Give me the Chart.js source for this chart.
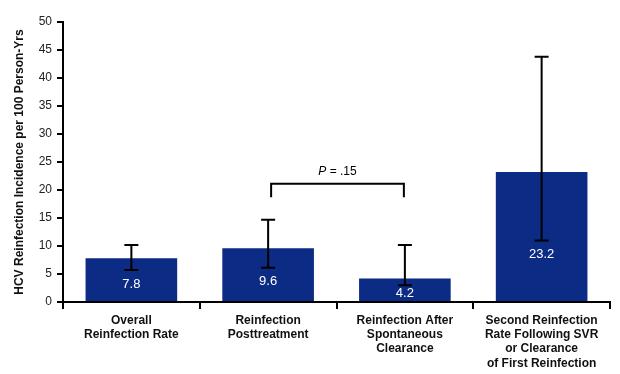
<!DOCTYPE html>
<html>
<head>
<meta charset="utf-8">
<script src="https://cdn.jsdelivr.net/npm/chart.js@4"></script>
<style>
  html, body { margin: 0; padding: 0; background: #fff; }
  #wrap { width: 620px; height: 374px; }
</style>
</head>
<body>
<div id="wrap"><canvas id="chart" width="620" height="374"></canvas></div>
<script>
// Reinfection incidence per 100 person-years, with 95% CI whiskers
const categories = [
  ["Overall", "Reinfection Rate"],
  ["Reinfection", "Posttreatment"],
  ["Reinfection After", "Spontaneous", "Clearance"],
  ["Second Reinfection", "Rate Following SVR", "or Clearance", "of First Reinfection"]
];
const rates   = [7.8, 9.6, 4.2, 23.2];
const ciLow   = [5.7, 6.1, 3.0, 11.0];
const ciHigh  = [10.2, 14.7, 10.2, 43.8];
const yTicks  = [0, 5, 10, 15, 20, 25, 30, 35, 40, 45, 50];

// Comparison bracket between bar 2 and bar 3
const bracketPair  = [1, 2];
const bracketLevel = 21.1;
const bracketLeg   = 18.7;
const bracketText  = ".15";

const BAR_COLOR = "#0b2b85";
const FONT = "Arial, 'Liberation Sans', sans-serif";

// Whiskers, value labels and the P bracket drawn on top of the bars
const overlayPlugin = {
  id: "overlay",
  afterDatasetsDraw: function (chart) {
    const ctx = chart.ctx;
    const x = chart.scales.x;
    const y = chart.scales.y;

    ctx.save();
    ctx.strokeStyle = "#000";
    ctx.lineWidth = 2;

    rates.forEach(function (v, i) {
      const cx = x.getPixelForValue(i);
      const top = y.getPixelForValue(ciHigh[i]);
      const bot = y.getPixelForValue(ciLow[i]);
      ctx.beginPath();
      ctx.moveTo(cx, top); ctx.lineTo(cx, bot);
      ctx.moveTo(cx - 7, top); ctx.lineTo(cx + 7, top);
      ctx.moveTo(cx - 7, bot); ctx.lineTo(cx + 7, bot);
      ctx.stroke();

      // value label sits just under the lower whisker, inside the bar
      const base = y.getPixelForValue(0);
      const ly = Math.min(bot + 14, base - 9);
      ctx.fillStyle = "#fff";
      ctx.font = "13px " + FONT;
      ctx.textAlign = "center";
      ctx.textBaseline = "middle";
      ctx.fillText(v.toFixed(1), cx, ly);
    });

    // bracket
    const x1 = x.getPixelForValue(bracketPair[0]) + 3;
    const x2 = x.getPixelForValue(bracketPair[1]) - 1;
    const by = y.getPixelForValue(bracketLevel);
    const ly = y.getPixelForValue(bracketLeg);
    ctx.beginPath();
    ctx.moveTo(x1, ly); ctx.lineTo(x1, by); ctx.lineTo(x2, by); ctx.lineTo(x2, ly);
    ctx.stroke();

    ctx.fillStyle = "#000";
    ctx.textBaseline = "middle";
    const mid = (x1 + x2) / 2;
    ctx.font = "italic 12px " + FONT;
    const pW = ctx.measureText("P").width;
    ctx.font = "12px " + FONT;
    const rest = " = " + bracketText;
    const rW = ctx.measureText(rest).width;
    const sx = mid - (pW + rW) / 2;
    ctx.textAlign = "left";
    ctx.font = "italic 12px " + FONT;
    ctx.fillText("P", sx, by - 12);
    ctx.font = "12px " + FONT;
    ctx.fillText(rest, sx + pW, by - 12);
    ctx.restore();
  }
};

new Chart(document.getElementById("chart"), {
  type: "bar",
  data: {
    labels: categories,
    datasets: [{
      data: rates,
      backgroundColor: BAR_COLOR,
      borderWidth: 0,
      categoryPercentage: 1,
      barPercentage: 0.67
    }]
  },
  options: {
    responsive: false,
    animation: false,
    layout: { padding: { top: 22, right: 10, left: 0, bottom: 0 } },
    plugins: {
      legend: { display: false },
      tooltip: { enabled: false }
    },
    scales: {
      x: {
        grid: {
          display: true,
          drawOnChartArea: false,
          offset: true,
          color: "#000",
          lineWidth: 2,
          tickLength: 7
        },
        border: { color: "#000", width: 2 },
        ticks: {
          color: "#111",
          font: { family: FONT, size: 12, weight: "bold" },
          padding: 4,
          maxRotation: 0,
          autoSkip: false
        },
        afterFit: function (s) { s.height = 72; }
      },
      y: {
        min: 0,
        max: 50,
        afterBuildTicks: function (s) {
          s.ticks = yTicks.map(function (v) { return { value: v }; });
        },
        grid: {
          display: true,
          drawOnChartArea: false,
          color: "#000",
          lineWidth: 2,
          tickLength: 6
        },
        border: { color: "#000", width: 2 },
        ticks: {
          color: "#222",
          font: { family: FONT, size: 12 },
          padding: 5
        },
        title: {
          display: true,
          text: "HCV Reinfection Incidence per 100 Person-Yrs",
          color: "#111",
          font: { family: FONT, size: 12, weight: "bold" },
          padding: { top: 12, bottom: 0 }
        },
        afterFit: function (s) { s.width = 63; }
      }
    }
  },
  plugins: [overlayPlugin]
});
</script>
</body>
</html>
